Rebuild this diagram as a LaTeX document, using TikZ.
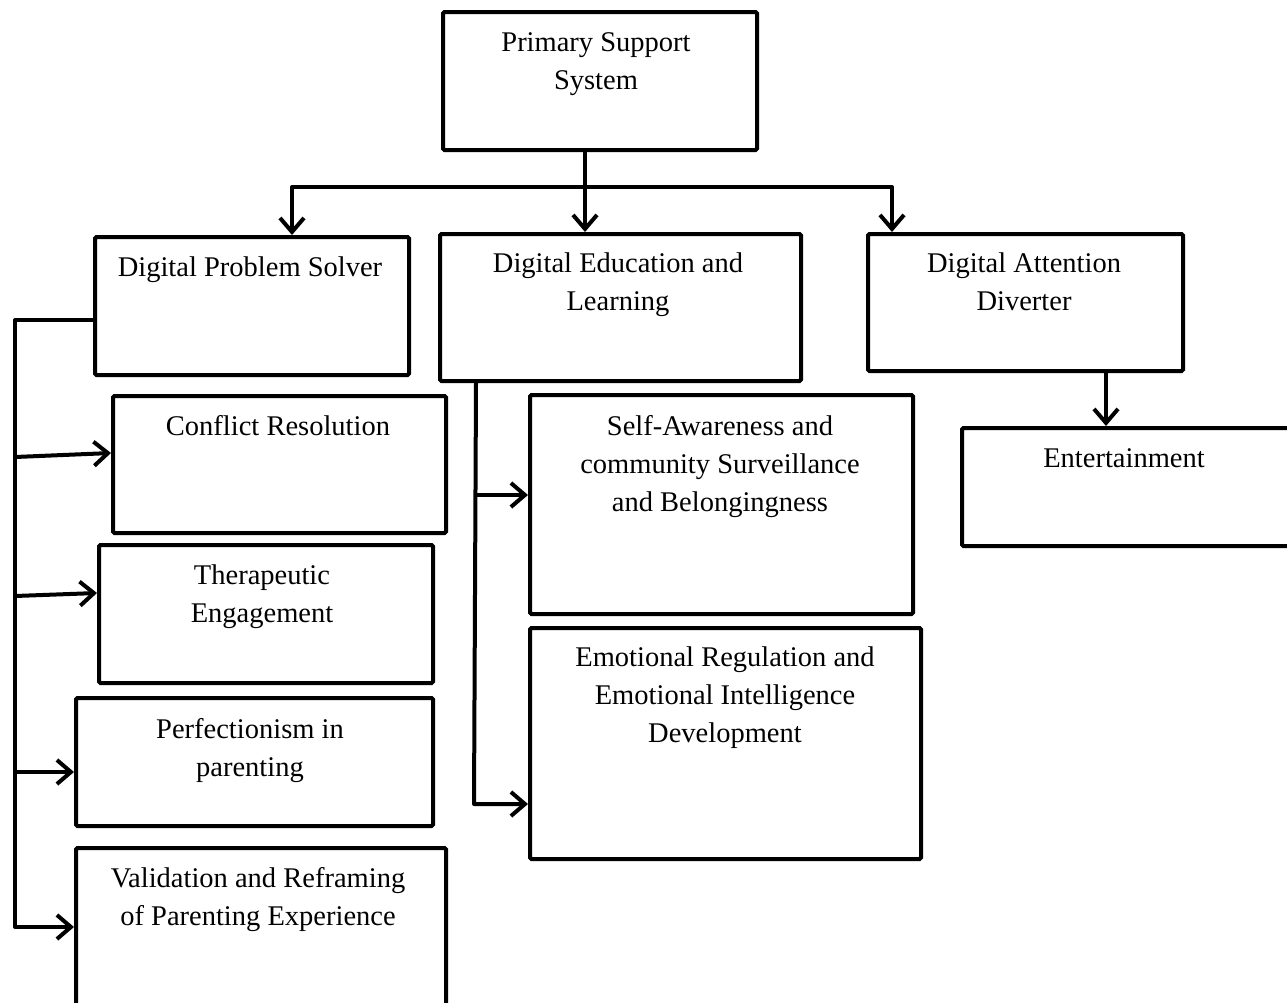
\documentclass[tikz,border=0pt]{standalone}
\usepackage{fontspec}
\setmainfont{Liberation Serif}
\usetikzlibrary{arrows.meta}
\begin{document}
\begin{tikzpicture}[x=1pt,y=-1pt,
  box/.style={draw, line width=4pt, rounded corners=1.5pt, inner sep=0pt},
  lbl/.style={anchor=north, align=center, inner sep=0pt, font=\fontsize{28.5}{38}\selectfont},
  conn/.style={line width=4pt, line join=round},
  arr/.style={conn, -{Straight Barb[length=14pt,width=24pt,line width=4pt]}}]
\useasboundingbox (0,0) rectangle (1287,1002);

% boxes
\node[box, minimum width=314pt, minimum height=138pt] (prim) at (600,81) {};
\node[box, minimum width=314pt, minimum height=138pt] (dps)  at (252,306) {};
\node[box, minimum width=361pt, minimum height=147pt] (del)  at (620.5,307.5) {};
\node[box, minimum width=315pt, minimum height=137pt] (dad)  at (1025.5,302.5) {};
\node[box, minimum width=338pt, minimum height=118pt] (ent)  at (1131,487) {};
\node[box, minimum width=333pt, minimum height=137pt] (cr)   at (279.5,464.5) {};
\node[box, minimum width=334pt, minimum height=138pt] (te)   at (266,614) {};
\node[box, minimum width=357pt, minimum height=128pt] (pp)   at (254.5,762) {};
\node[box, minimum width=370pt, minimum height=162pt] (vr)   at (261,929) {};
\node[box, minimum width=383pt, minimum height=219pt] (sa)   at (721.5,504.5) {};
\node[box, minimum width=391pt, minimum height=231pt] (er)   at (725.5,743.5) {};

% labels
\node[lbl] (primT) at (596,32)  {Primary Support\\System};
\node[lbl] (dpsT)  at (250,257) {Digital Problem Solver};
\node[lbl] (delT)  at (618,253) {Digital Education and\\Learning};
\node[lbl] (dadT)  at (1024,253) {Digital Attention\\Diverter};
\node[lbl] (entT)  at (1124,448) {Entertainment};
\node[lbl] (crT)   at (278,415) {Conflict Resolution};
\node[lbl] (teT)   at (262,565) {Therapeutic\\Engagement};
\node[lbl] (ppT)   at (250,718) {Perfectionism in\\parenting};
\node[lbl] (vrT)   at (258,867) {Validation and Reframing\\of Parenting Experience};
\node[lbl] (saT)   at (720,415) {Self-Awareness and\\community Surveillance\\and Belongingness};
\node[lbl] (erT)   at (725,647) {Emotional Regulation and\\Emotional Intelligence\\Development};

% top distribution
\coordinate (split) at (585,187);
\coordinate (bl) at (292,187);
\coordinate (br) at (892,187);
\draw[conn] (prim.south -| split) -- (split);
\draw[arr] (split) -- (split |- del.north);
\draw[arr] (split) -- (bl) -- (bl |- dps.north);
\draw[arr] (split) -- (br) -- (br |- dad.north);

% attention diverter branch
\coordinate (dv) at (1106,0);
\draw[arr] (dad.south -| dv) -- (ent.north -| dv);

% problem solver rail
\coordinate (lt) at (15,320);
\coordinate (lb) at (15,927);
\draw[arr] (dps.west |- lt) -- (lt) -- (lb) -- (vr.west |- lb);
\draw[arr] (15,457) -- (cr.west |- 0,453);
\draw[arr] (15,596) -- (te.west |- 0,593);
\draw[arr] (15,772) -- (pp.west |- 0,772);

% education rail
\coordinate (mt) at (476,0);
\coordinate (mb) at (474,804);
\draw[arr] (del.south -| mt) -- (mb) -- (er.west |- mb);
\draw[arr] (476,495) -- (sa.west |- 0,495);
\end{tikzpicture}
\end{document}
